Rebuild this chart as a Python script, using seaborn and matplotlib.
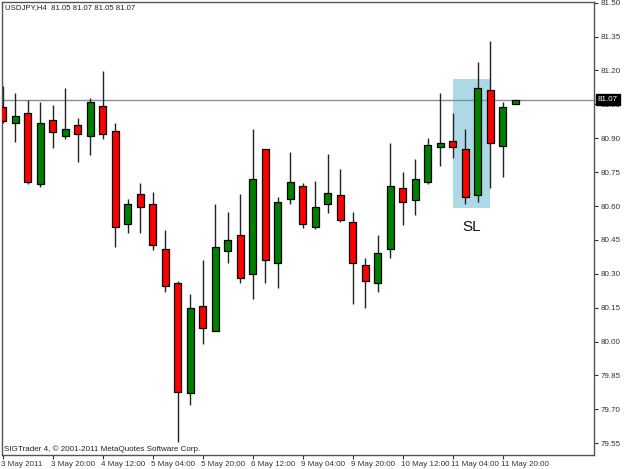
import matplotlib
matplotlib.use('Agg')
import matplotlib.pyplot as plt
import matplotlib.transforms as mtransforms
from matplotlib.patches import Rectangle
import seaborn as sns
import numpy as np
import pandas as pd

# ---- data (USDJPY H4 candles) ----
opens = [81.040, 80.966, 81.010, 80.697, 80.979, 80.909, 80.957, 80.909, 81.041, 80.931,
         80.519, 80.652, 80.609, 80.410, 80.258, 79.771, 80.159, 80.047, 80.400, 80.470,
         80.300, 80.851, 80.349, 80.630, 80.687, 80.507, 80.608, 80.649, 80.528, 80.338,
         80.258, 80.408, 80.681, 80.628, 80.708, 80.860, 80.888, 80.852, 80.650, 81.112,
         80.867, 81.050]
highs = [81.131, 81.099, 81.069, 81.059, 81.047, 81.121, 80.990, 81.079, 81.199, 80.967,
         80.630, 80.701, 80.661, 80.494, 80.269, 80.210, 80.361, 80.609, 80.572, 80.652,
         80.941, 80.853, 80.640, 80.840, 80.701, 80.709, 80.829, 80.762, 80.572, 80.370,
         80.470, 80.878, 80.751, 80.808, 80.902, 81.102, 81.010, 80.941, 81.239, 81.330,
         81.059, 81.070]
lows = [80.969, 80.885, 80.696, 80.685, 80.858, 80.895, 80.796, 80.826, 80.898, 80.417,
        80.479, 80.479, 80.405, 80.218, 79.557, 79.719, 79.988, 80.045, 80.346, 80.258,
        80.188, 80.258, 80.236, 80.608, 80.501, 80.500, 80.568, 80.529, 80.166, 80.147,
        80.218, 80.369, 80.517, 80.559, 80.696, 80.777, 80.811, 80.608, 80.616, 80.678,
        80.730, 81.050]
closes = [80.978, 80.998, 80.708, 80.969, 80.929, 80.941, 80.919, 81.059, 80.919, 80.508,
          80.609, 80.597, 80.427, 80.247, 79.778, 80.147, 80.059, 80.417, 80.448, 80.280,
          80.718, 80.360, 80.618, 80.708, 80.519, 80.597, 80.659, 80.538, 80.349, 80.269,
          80.391, 80.689, 80.618, 80.718, 80.869, 80.878, 80.860, 80.639, 81.121, 80.878,
          81.040, 81.070]

x_tick_labels = ["3 May 2011", "3 May 20:00", "4 May 12:00", "5 May 04:00", "5 May 20:00",
                 "6 May 12:00", "9 May 04:00", "9 May 20:00", "10 May 12:00",
                 "11 May 04:00", "11 May 20:00"]
y_ticks = [79.55, 79.70, 79.85, 80.00, 80.15, 80.30, 80.45, 80.60, 80.75, 80.90,
           81.05, 81.20, 81.35, 81.50]
current_price = 81.07
sl_zone = (80.590, 81.162)   # price range of highlighted box
sl_bars = (36, 39)           # bar index range of highlighted box

df = pd.DataFrame({"open": opens, "high": highs, "low": lows, "close": closes})
df["i"] = np.arange(len(df))
df["bull"] = df["close"] >= df["open"]

sns.set_style("white")
plt.rcParams['font.family'] = ['Liberation Sans', 'DejaVu Sans']

fig = plt.figure(figsize=(6.25, 4.69), dpi=100)
fig.patch.set_facecolor('white')
ax = fig.add_axes([2/625, 1 - 455/469, 592/625, 453/469])
ax.set_facecolor('white')

# SL highlight box
ax.add_patch(Rectangle((sl_bars[0], sl_zone[0]), sl_bars[1] - sl_bars[0],
                       sl_zone[1] - sl_zone[0], facecolor='#ADD8E6', edgecolor='none', zorder=1))
ax.text((sl_bars[0] + sl_bars[1]) / 2, 80.506, "SL", ha='center', va='center',
        fontsize=11, color='#111111', zorder=5)

# current price line
ax.axhline(current_price, color='#7F93A8', lw=1, zorder=1.5)

# wicks
ax.vlines(df["i"], df["low"], df["high"], color='#222222', lw=1, zorder=2)
# bodies
body_bottom = np.minimum(df["open"], df["close"])
body_h = np.abs(df["close"] - df["open"])
colors = np.where(df["bull"], '#008000', '#FF0000')
ax.bar(df["i"], body_h, bottom=body_bottom, width=0.56, color=colors,
       edgecolor='black', linewidth=0.9, zorder=3)

ax.set_xlim(-0.056, 47.3)
ax.set_ylim(79.498, 81.503)

# axes styling
for s in ax.spines.values():
    s.set_visible(True)
    s.set_color('#555555')
    s.set_linewidth(1)

ax.yaxis.tick_right()
ax.set_yticks(y_ticks)
ax.set_yticklabels([f"{v:.2f}" for v in y_ticks])
ax.tick_params(axis='y', which='both', right=True, left=False, length=3, width=0.8,
               direction='out', pad=2, labelsize=5.8, colors='#333333')

ax.set_xticks(list(range(0, 4 * len(x_tick_labels), 4)))
ax.set_xticklabels(x_tick_labels, ha='left')
ax.tick_params(axis='x', which='both', bottom=True, length=3, width=0.8,
               direction='out', pad=1.5, labelsize=5.8, colors='#333333')
for lab in ax.get_xticklabels():
    lab.set_transform(lab.get_transform() + mtransforms.ScaledTranslation(-2/100, 0, fig.dpi_scale_trans))

# current price tag
trans = mtransforms.blended_transform_factory(ax.transAxes, ax.transData)
ax.text(1.0 + 4/592, current_price, f"{current_price:.2f}", transform=trans,
        ha='left', va='center', fontsize=5.8, color='white', zorder=10, clip_on=False,
        bbox=dict(boxstyle='square,pad=0.25', facecolor='black', edgecolor='black'))

# header and footer texts
fig.text(5/625, 1 - 8/469, "USDJPY,H4  81.05 81.07 81.05 81.07", ha='left', va='center',
         fontsize=5.6, color='#222222')
fig.text(4/625, 1 - 449/469, "SIGTrader 4, © 2001-2011 MetaQuotes Software Corp.",
         ha='left', va='center', fontsize=5.8, color='#222222')

fig.savefig('out.png', dpi=100)
